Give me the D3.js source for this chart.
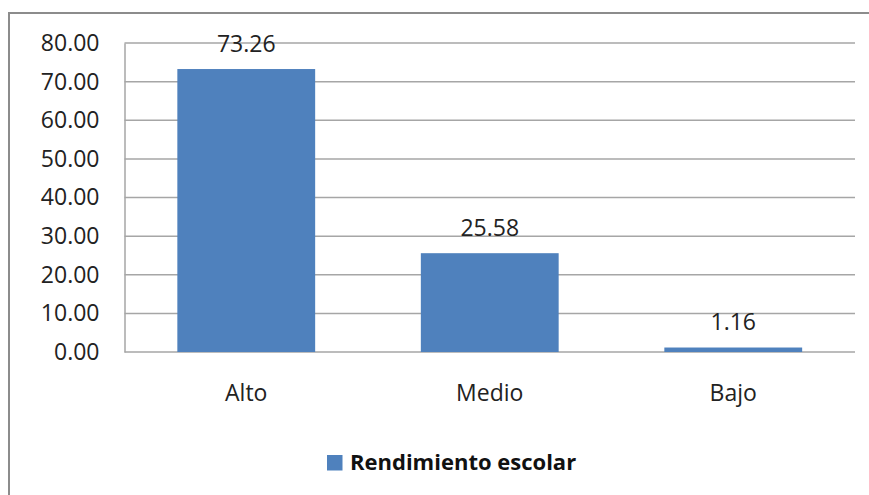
<!DOCTYPE html>
<html><head><meta charset="utf-8">
<script src="https://cdn.jsdelivr.net/npm/d3@7"></script>
<style>body{margin:0;background:#fff}svg{display:block}</style>
</head><body>
<script>
const categories = ["Alto", "Medio", "Bajo"];
const values = [73.26, 25.58, 1.16];
const valueLabels = ["73.26", "25.58", "1.16"];
const tickValues = [0, 10, 20, 30, 40, 50, 60, 70, 80];
const seriesName = "Rendimiento escolar";

const W = 869, H = 495;
const font = "'Open Sans', Lato, sans-serif";
const fs = 23;
const svg = d3.select("body").append("svg").attr("width", W).attr("height", H);
svg.append("rect").attr("width", W).attr("height", H).attr("fill", "#fff");

// outer frame (extends beyond right and bottom)
svg.append("rect").attr("x", 9).attr("y", 13).attr("width", W + 20).attr("height", H + 20)
  .attr("fill", "none").attr("stroke", "#8c8c8c").attr("stroke-width", 2);

const plot = {left: 124.5, right: 855, top: 43, bottom: 352};
const x = d3.scaleBand().domain(categories).range([plot.left, plot.right]).paddingInner(0.434).paddingOuter(0.217);
const y = d3.scaleLinear().domain([0, 80]).range([plot.bottom, plot.top]);

// gridlines
svg.append("g").selectAll("line").data(tickValues).join("line")
  .attr("x1", plot.left).attr("x2", plot.right)
  .attr("y1", d => y(d)).attr("y2", d => y(d))
  .attr("stroke", "#a6a6a6").attr("stroke-width", 1.5);

// y axis
const yAxis = svg.append("g").attr("transform", `translate(${plot.left},0)`)
  .call(d3.axisLeft(y).tickValues(tickValues).tickFormat(d3.format(".2f")).tickSize(0).tickPadding(25));
yAxis.select(".domain").attr("stroke", "#a6a6a6").attr("stroke-width", 1.5);
yAxis.selectAll("text").attr("font-family", font).attr("font-size", fs).attr("fill", "#222");

// bars
svg.append("g").selectAll("rect").data(values).join("rect")
  .attr("x", (d, i) => x(categories[i])).attr("width", x.bandwidth())
  .attr("y", d => y(d)).attr("height", d => y(0) - y(d))
  .attr("fill", "#4f81bd");

// value labels
svg.append("g").selectAll("text").data(values).join("text")
  .attr("x", (d, i) => x(categories[i]) + x.bandwidth() / 2)
  .attr("y", d => y(d) - 17.5)
  .attr("text-anchor", "middle").attr("font-family", font).attr("font-size", fs).attr("fill", "#222")
  .text((d, i) => valueLabels[i]);

// x axis labels
const xAxis = svg.append("g").attr("transform", `translate(0,${plot.bottom})`)
  .call(d3.axisBottom(x).tickSize(0).tickPadding(33));
xAxis.select(".domain").remove();
xAxis.selectAll("text").attr("font-family", font).attr("font-size", fs).attr("fill", "#222");

// legend
const lg = svg.append("g");
lg.append("rect").attr("x", 327).attr("y", 455).attr("width", 15.5).attr("height", 15.5).attr("fill", "#4f81bd");
lg.append("text").attr("x", 350).attr("y", 470).attr("font-family", font).attr("font-weight", "bold")
  .attr("font-size", 22).attr("fill", "#111").text(seriesName);
</script>
</body></html>
